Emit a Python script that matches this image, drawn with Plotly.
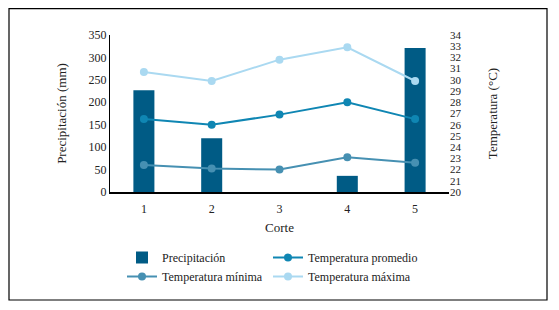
import plotly.graph_objects as go

cortes = ["1", "2", "3", "4", "5"]
precipitacion = [227, 120, 0, 36, 321]
temp_promedio = [26.5, 26.0, 26.9, 28.0, 26.5]
temp_minima = [22.4, 22.1, 22.0, 23.1, 22.6]
temp_maxima = [30.7, 29.9, 31.8, 32.9, 29.9]

FONT = "Liberation Serif, Times New Roman, serif"
OFF = 8  # browser body margin
W, H = 559 - OFF, 310 - OFF
# plot area in screen px: x 110..449, y 35..192
L = 110 - OFF
T = 35 - OFF
R = W - (449 - OFF)
B = H - (192 - OFF)
pw = W - L - R
ph = H - T - B


def px_x(sx):
    return (sx - OFF - L) / pw


def px_y(sy):
    return (T + ph - (sy - OFF)) / ph


fig = go.Figure()
fig.add_trace(go.Bar(x=cortes, y=precipitacion, name="Precipitación",
                     marker=dict(color="#005b85", line=dict(width=0)), width=0.31,
                     legend="legend"))
fig.add_trace(go.Scatter(x=cortes, y=temp_promedio, name="Temperatura promedio",
                         mode="lines+markers", yaxis="y2",
                         line=dict(color="#0f86b3", width=2), marker=dict(size=8),
                         legend="legend2"))
fig.add_trace(go.Scatter(x=cortes, y=temp_minima, name="Temperatura mínima",
                         mode="lines+markers", yaxis="y2",
                         line=dict(color="#4690b2", width=2), marker=dict(size=8),
                         legend="legend"))
fig.add_trace(go.Scatter(x=cortes, y=temp_maxima, name="Temperatura máxima",
                         mode="lines+markers", yaxis="y2",
                         line=dict(color="#aad9f1", width=2), marker=dict(size=8),
                         legend="legend2"))

fig.update_layout(
    width=W, height=H,
    margin=dict(l=L, r=R, t=T, b=B),
    paper_bgcolor="white", plot_bgcolor="white",
    font=dict(family=FONT, size=12, color="#222"),
    xaxis=dict(type="category", range=[-0.5, 4.5], showline=True, linecolor="black",
               linewidth=1.5, ticks="", showgrid=False, zeroline=False,
               ticklabelstandoff=5,
               title=dict(text="Corte", standoff=8, font=dict(size=13, family=FONT)),
               tickfont=dict(size=12, family=FONT)),
    yaxis=dict(range=[0, 350], dtick=50, showline=True, linecolor="black", linewidth=1,
               ticks="", showgrid=False, zeroline=False,
               title=dict(text="Precipitación (mm)", standoff=19, font=dict(size=13, family=FONT)),
               tickfont=dict(size=12, family=FONT)),
    yaxis2=dict(range=[20, 34], dtick=1, overlaying="y", side="right", showline=False,
                ticks="", showgrid=False, zeroline=False,
                title=dict(text="Temperatura (°C)", standoff=27, font=dict(size=13, family=FONT)),
                tickfont=dict(size=11, family=FONT)),
    bargap=0.69,
    legend=dict(orientation="v", x=px_x(122), xanchor="left",
                y=px_y(243), yanchor="top",
                font=dict(size=12, family=FONT), tracegroupgap=0, bgcolor="rgba(0,0,0,0)"),
    legend2=dict(orientation="v", x=px_x(268), xanchor="left",
                 y=px_y(243), yanchor="top",
                 font=dict(size=12, family=FONT), tracegroupgap=0, bgcolor="rgba(0,0,0,0)"),
    showlegend=True,
)

# outer border
fig.add_shape(type="rect", xref="paper", yref="paper",
              x0=px_x(9), x1=px_x(547), y0=px_y(300), y1=px_y(8.6),
              line=dict(color="black", width=1.2), fillcolor="rgba(0,0,0,0)", layer="below")

fig.write_html("out.html")
